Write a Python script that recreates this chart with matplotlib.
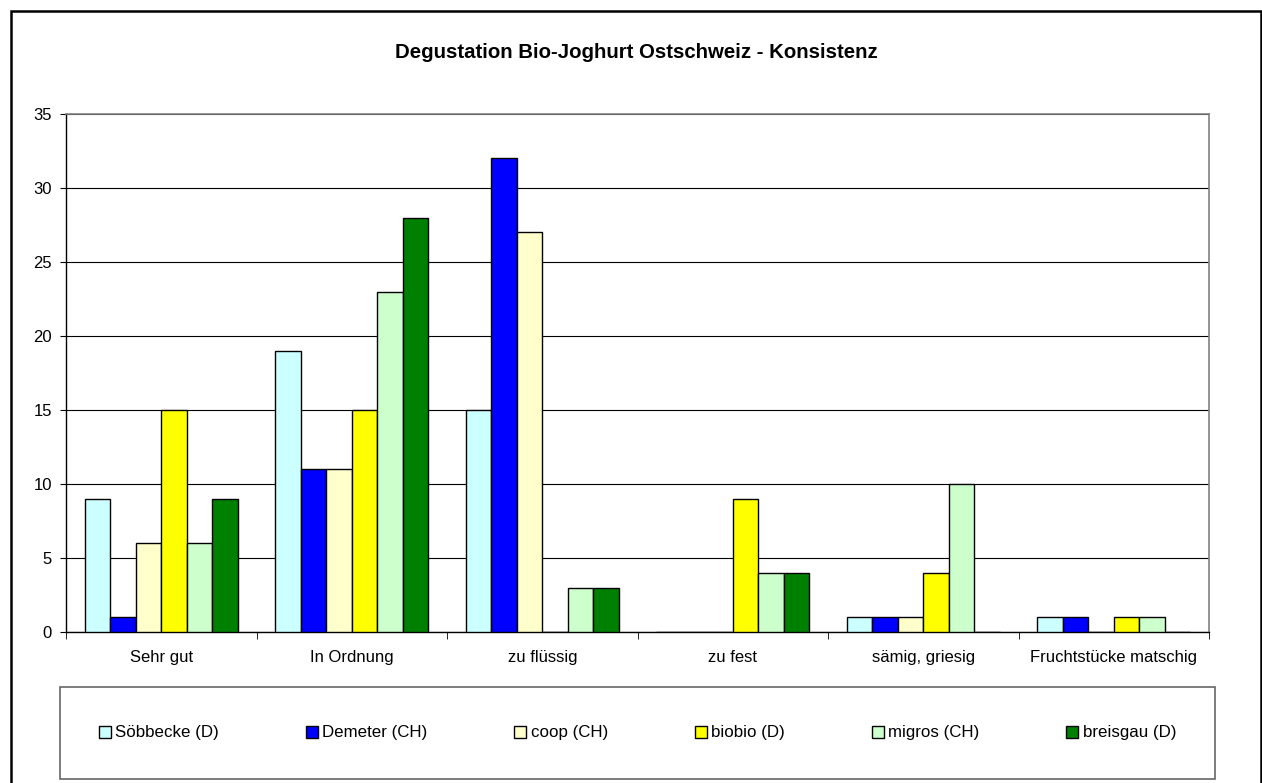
import numpy as np
import matplotlib
matplotlib.use("Agg")
import matplotlib.pyplot as plt
from matplotlib.patches import Rectangle
from matplotlib.ticker import MultipleLocator, FixedLocator

plt.rcParams['font.family'] = ['Liberation Sans', 'DejaVu Sans']

categories = ["Sehr gut", "In Ordnung", "zu flüssig", "zu fest",
              "sämig, griesig", "Fruchtstücke matschig"]
series = ["Söbbecke (D)", "Demeter (CH)", "coop (CH)", "biobio (D)",
          "migros (CH)", "breisgau (D)"]
soebbecke = [9, 19, 15, 0, 1, 1]
demeter = [1, 11, 32, 0, 1, 1]
coop = [6, 11, 27, 0, 1, 0]
biobio = [15, 15, 0, 9, 4, 1]
migros = [6, 23, 3, 4, 10, 1]
breisgau = [9, 28, 3, 4, 0, 0]
values = [soebbecke, demeter, coop, biobio, migros, breisgau]
colors = ["#CCFFFF", "#0000FF", "#FFFFCC", "#FFFF00", "#CCFFCC", "#008000"]

W, H = 1262, 783
fig = plt.figure(figsize=(W / 100, H / 100), dpi=100)
ax = fig.add_axes([66 / W, 1 - 632 / H, (1209 - 66) / W, (632 - 114) / H])

x = np.arange(len(categories))
bw = 25.5 / 190.5
for i, (name, vals, c) in enumerate(zip(series, values, colors)):
    off = (i - 2.5) * bw
    ax.bar(x + off, vals, width=bw, color=c, edgecolor="black", linewidth=1,
           label=name, zorder=3)

ax.set_xlim(-0.5, len(categories) - 0.5)
ax.set_ylim(0, 35)
ax.yaxis.set_major_locator(MultipleLocator(5))
ax.set_xticks(x)
ax.set_xticklabels(categories, fontsize=12)
ax.xaxis.set_minor_locator(FixedLocator(np.arange(-0.5, len(categories), 1)))
ax.tick_params(axis="x", which="major", length=0, pad=13)
ax.tick_params(axis="x", which="minor", length=5, direction="out", color="black")
ax.tick_params(axis="y", length=4, direction="out", labelsize=12, pad=6)
ax.grid(axis="y", color="black", linewidth=0.8, zorder=0)
for s in ("top", "right"):
    ax.spines[s].set_color("#808080")
    ax.spines[s].set_linewidth(1.2)
for s in ("left", "bottom"):
    ax.spines[s].set_color("black")
    ax.spines[s].set_linewidth(1)

fig.text(636 / W, 1 - 52 / H, "Degustation Bio-Joghurt Ostschweiz - Konsistenz",
         ha="center", va="center", fontsize=14.7, fontweight="bold")

handles, labels = ax.get_legend_handles_labels()
leg = fig.legend(handles, labels, ncol=6, mode="expand", fontsize=12.2,
                 bbox_to_anchor=(60 / W, 1 - 779 / H, (1215 - 60) / W, (779 - 687) / H),
                 loc="center", fancybox=False, edgecolor="#404040",
                 handlelength=0.7, handleheight=0.7, handletextpad=0.25,
                 borderaxespad=0, borderpad=2.3)
leg.get_frame().set_linewidth(1.2)

fig.patches.append(Rectangle((11 / W, -0.05), (1261 - 11) / W, 1.05 - 11 / H,
                             transform=fig.transFigure, fill=False,
                             edgecolor="black", linewidth=1.8))

fig.savefig("out.png", dpi=100)
